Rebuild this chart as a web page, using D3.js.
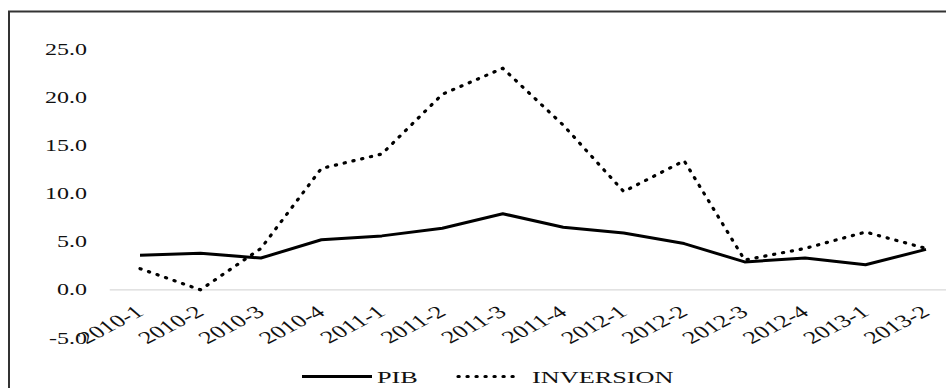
<!DOCTYPE html>
<html>
<head>
<meta charset="utf-8">
<script src="https://cdn.jsdelivr.net/npm/d3@7"></script>
<style>
  html, body { margin: 0; padding: 0; background: #fff; overflow: hidden; }
  svg text { font-family: "Liberation Serif", "DejaVu Serif", serif; fill: #111; }
</style>
</head>
<body>
<div id="chart"></div>
<script>
// Quarters on the x axis
const categories = ['2010-1', '2010-2', '2010-3', '2010-4', '2011-1', '2011-2', '2011-3',
  '2011-4', '2012-1', '2012-2', '2012-3', '2012-4', '2013-1', '2013-2'];

// Series values
const pib = [3.6, 3.8, 3.3, 5.2, 5.6, 6.4, 7.9, 6.5, 5.9, 4.8, 2.9, 3.3, 2.6, 4.2];
const inversion = [2.2, 0.0, 4.3, 12.6, 14.1, 20.3, 23.0, 17.1, 10.2, 13.4, 3.1, 4.3, 6.0, 4.3];

// Y tick values
const yTicks = [-5, 0, 5, 10, 15, 20, 25];

const W = 946, H = 388;
const stretch = 1.5; // the original picture is stretched sideways

const svg = d3.select('#chart')
  .append('svg')
  .attr('width', W)
  .attr('height', H);

// Outer frame (runs past the right and bottom edges)
svg.append('rect')
  .attr('x', 9)
  .attr('y', 11.5)
  .attr('width', W + 20)
  .attr('height', H + 20)
  .attr('fill', 'none')
  .attr('stroke', '#333')
  .attr('stroke-width', 2);

// Scales
const x = d3.scalePoint()
  .domain(categories)
  .range([140, 926]);

const y = d3.scaleLinear()
  .domain([-5, 25])
  .range([338, 49]);

const step = x.step();

// Zero line
svg.append('line')
  .attr('x1', x(categories[0]) - step / 2)
  .attr('x2', x(categories[categories.length - 1]) + step / 2)
  .attr('y1', y(0))
  .attr('y2', y(0))
  .attr('stroke', '#d9d9d9')
  .attr('stroke-width', 1.2);

// Y tick labels
svg.append('g')
  .selectAll('text')
  .data(yTicks)
  .enter()
  .append('text')
  .attr('transform', d => `translate(87,${y(d)}) scale(${stretch},1)`)
  .attr('dy', '0.35em')
  .attr('text-anchor', 'end')
  .style('font-size', '16px')
  .text(d => d.toFixed(1));

// X tick labels, rotated
svg.append('g')
  .selectAll('text')
  .data(categories)
  .enter()
  .append('text')
  .attr('transform', d => `translate(${x(d) + 5},${314}) scale(${stretch},1) rotate(-38)`)
  .attr('text-anchor', 'end')
  .style('font-size', '17.5px')
  .text(d => d);

// Lines
const line = d3.line()
  .x((d, i) => x(categories[i]))
  .y(d => y(d));

svg.append('path')
  .datum(pib)
  .attr('d', line)
  .attr('fill', 'none')
  .attr('stroke', '#000')
  .attr('stroke-width', 3)
  .attr('stroke-linejoin', 'round');

svg.append('path')
  .datum(inversion)
  .attr('d', line)
  .attr('fill', 'none')
  .attr('stroke', '#000')
  .attr('stroke-width', 3.2)
  .attr('stroke-linecap', 'round')
  .attr('stroke-dasharray', '1.2 7.8');

// Legend
const legend = svg.append('g');
const ly = 376.5;

legend.append('line')
  .attr('x1', 302).attr('x2', 372)
  .attr('y1', ly).attr('y2', ly)
  .attr('stroke', '#000')
  .attr('stroke-width', 3);

legend.append('text')
  .attr('transform', `translate(377,${ly}) scale(${stretch},1)`)
  .attr('dy', '0.35em')
  .style('font-size', '17.5px')
  .text('PIB');

legend.append('line')
  .attr('x1', 458).attr('x2', 520)
  .attr('y1', ly).attr('y2', ly)
  .attr('stroke', '#000')
  .attr('stroke-width', 3.2)
  .attr('stroke-linecap', 'round')
  .attr('stroke-dasharray', '1.2 7.8');

legend.append('text')
  .attr('transform', `translate(532,${ly}) scale(${stretch},1)`)
  .attr('dy', '0.35em')
  .style('font-size', '17.5px')
  .text('INVERSION');
</script>
</body>
</html>
